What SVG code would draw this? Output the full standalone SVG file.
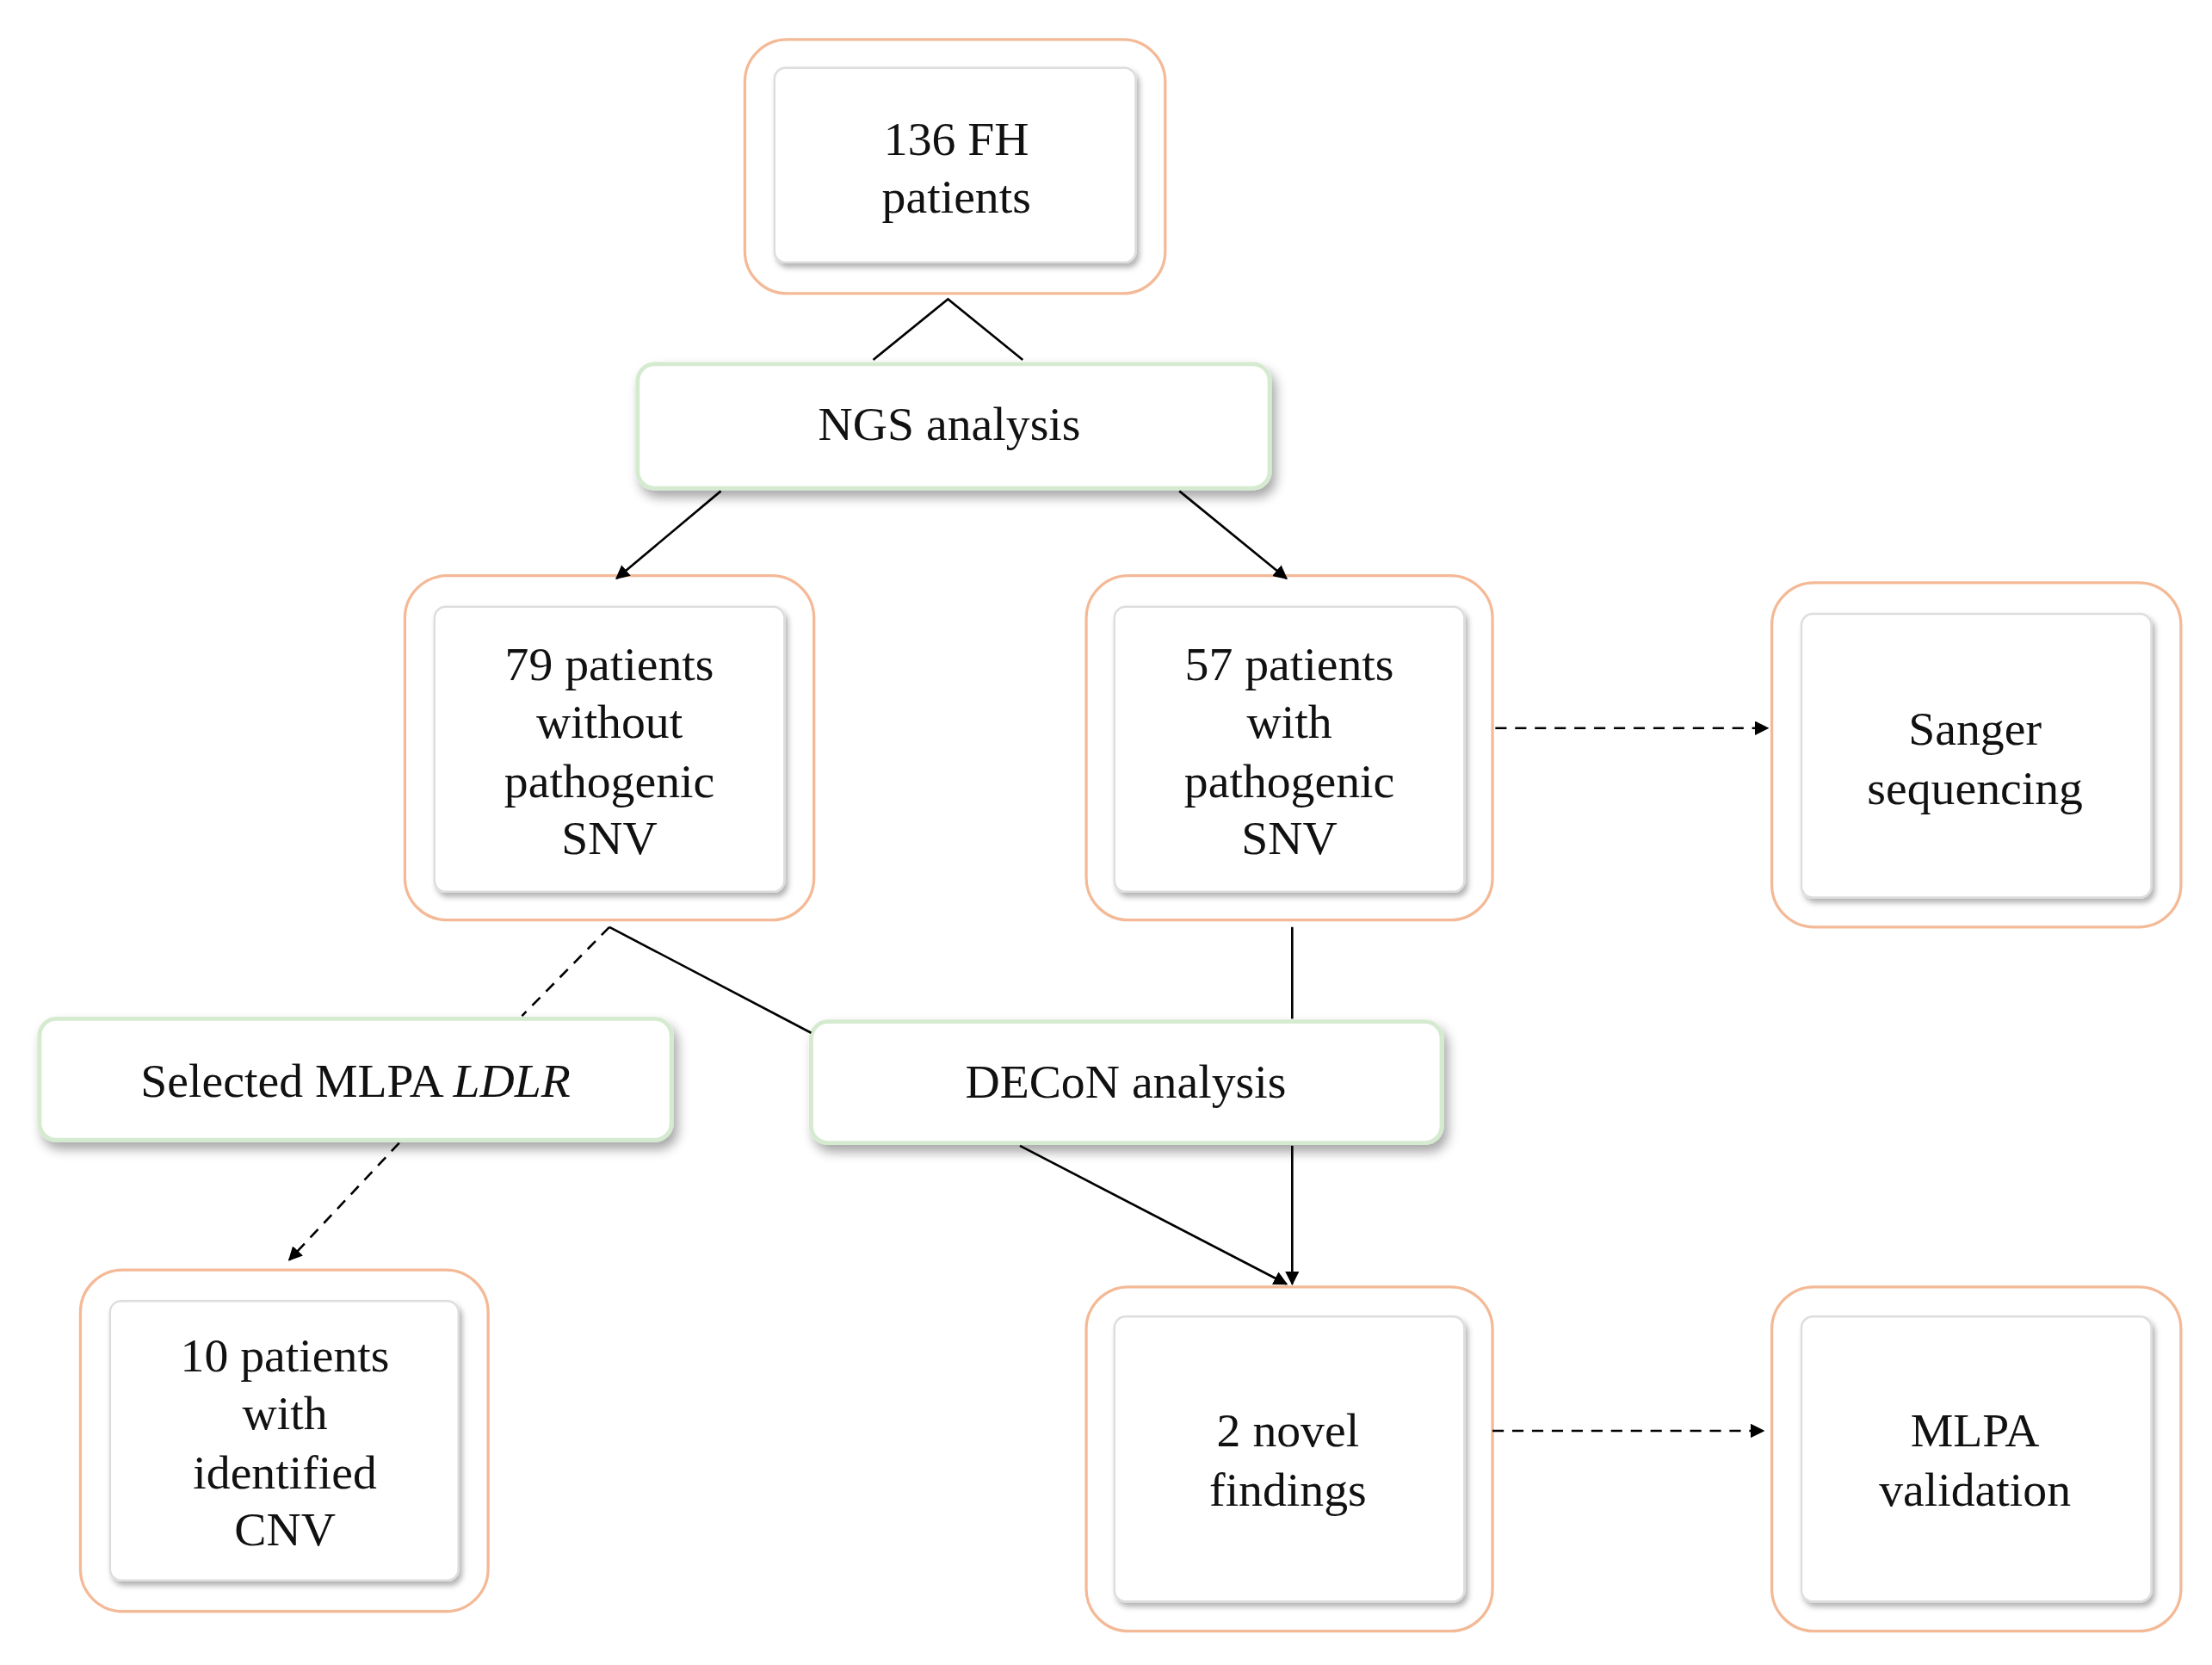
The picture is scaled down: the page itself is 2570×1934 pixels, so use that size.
<svg xmlns="http://www.w3.org/2000/svg" width="2570" height="1934" viewBox="0 0 2570 1934">
<defs>
<filter id="sh" x="-10%" y="-10%" width="130%" height="140%"><feDropShadow dx="3" dy="5" stdDeviation="4" flood-color="#000" flood-opacity="0.35"/></filter>
<filter id="ish" x="-10%" y="-10%" width="120%" height="120%"><feDropShadow dx="2" dy="3" stdDeviation="2" flood-color="#000" flood-opacity="0.3"/></filter>
<marker id="ar" markerWidth="10" markerHeight="10" refX="9" refY="5" orient="auto" markerUnits="userSpaceOnUse" viewBox="0 0 10 10"><path d="M0,0 L10,5 L0,10 z" fill="#000"/></marker>
<style>
.o{fill:#fff;stroke:#F4B996;stroke-width:2}
.i{fill:#fff;stroke:#ddd;stroke-width:1.5}
.g{fill:#fff;stroke:#D5EBD0;stroke-width:3}
.t{font-family:"Liberation Serif",serif;font-size:34px;fill:#111;text-anchor:middle}
.c{stroke:#000;stroke-width:1.6;fill:none}
.d{stroke-dasharray:8,6}
</style>
</defs>
<rect width="2570" height="1934" fill="#fff"/>
<g transform="scale(1.639)">
<g id="n136"><rect class="o" x="528" y="28" width="298" height="180" rx="30"/><rect class="i" x="549" y="48" width="256" height="138" rx="8" filter="url(#ish)"/><text class="t" x="678" y="110">136 FH</text><text class="t" x="678" y="151">patients</text></g>
<g id="ngs"><rect class="g" x="452" y="258" width="448" height="88" rx="12" filter="url(#sh)"/><text class="t" x="673" y="312">NGS analysis</text></g>
<g id="n79"><rect class="o" x="287" y="408" width="290" height="244" rx="30"/><rect class="i" x="308" y="430" width="248" height="202" rx="8" filter="url(#ish)"/><text class="t" x="432" y="482">79 patients</text><text class="t" x="432" y="523">without</text><text class="t" x="432" y="565">pathogenic</text><text class="t" x="432" y="605">SNV</text></g>
<g id="n57"><rect class="o" x="770" y="408" width="288" height="244" rx="30"/><rect class="i" x="790" y="430" width="248" height="202" rx="8" filter="url(#ish)"/><text class="t" x="914" y="482">57 patients</text><text class="t" x="914" y="523">with</text><text class="t" x="914" y="565">pathogenic</text><text class="t" x="914" y="605">SNV</text></g>
<g id="sanger"><rect class="o" x="1256" y="413" width="290" height="244" rx="30"/><rect class="i" x="1277" y="435" width="248" height="201" rx="8" filter="url(#ish)"/><text class="t" x="1400" y="528">Sanger</text><text class="t" x="1400" y="570">sequencing</text></g>
<g id="mlpasel"><rect class="g" x="28" y="722" width="448" height="86" rx="12" filter="url(#sh)"/><text class="t" x="252" y="777">Selected MLPA <tspan font-style="italic">LDLR</tspan></text></g>
<g id="decon"><rect class="g" x="575" y="724" width="447" height="86" rx="12" filter="url(#sh)"/><text class="t" x="798" y="778">DECoN analysis</text></g>
<g id="n10"><rect class="o" x="57" y="900" width="289" height="242" rx="30"/><rect class="i" x="78" y="922" width="247" height="198" rx="8" filter="url(#ish)"/><text class="t" x="202" y="972">10 patients</text><text class="t" x="202" y="1013">with</text><text class="t" x="202" y="1055">identified</text><text class="t" x="202" y="1095">CNV</text></g>
<g id="n2"><rect class="o" x="770" y="912" width="288" height="244" rx="30"/><rect class="i" x="790" y="933" width="248" height="202" rx="8" filter="url(#ish)"/><text class="t" x="913" y="1025">2 novel</text><text class="t" x="913" y="1067">findings</text></g>
<g id="mlpaval"><rect class="o" x="1256" y="912" width="290" height="244" rx="30"/><rect class="i" x="1277" y="933" width="248" height="202" rx="8" filter="url(#ish)"/><text class="t" x="1400" y="1025">MLPA</text><text class="t" x="1400" y="1067">validation</text></g>
<g id="connectors">
<path class="c" d="M619,255 L672,212 L725,255"/>
<line class="c" x1="511" y1="348" x2="437" y2="410" marker-end="url(#ar)"/>
<line class="c" x1="836" y1="348" x2="912" y2="410" marker-end="url(#ar)"/>
<line class="c d" x1="1060" y1="516" x2="1253" y2="516" marker-end="url(#ar)"/>
<line class="c d" x1="432" y1="657" x2="370" y2="720"/>
<line class="c" x1="432" y1="657" x2="575" y2="732"/>
<line class="c" x1="916" y1="657" x2="916" y2="722"/>
<line class="c d" x1="283" y1="810" x2="205" y2="893" marker-end="url(#ar)"/>
<line class="c" x1="723" y1="812" x2="912" y2="910" marker-end="url(#ar)"/>
<line class="c" x1="916" y1="812" x2="916" y2="910" marker-end="url(#ar)"/>
<line class="c d" x1="1058" y1="1014" x2="1250" y2="1014" marker-end="url(#ar)"/>
</g>
</g>
</svg>
